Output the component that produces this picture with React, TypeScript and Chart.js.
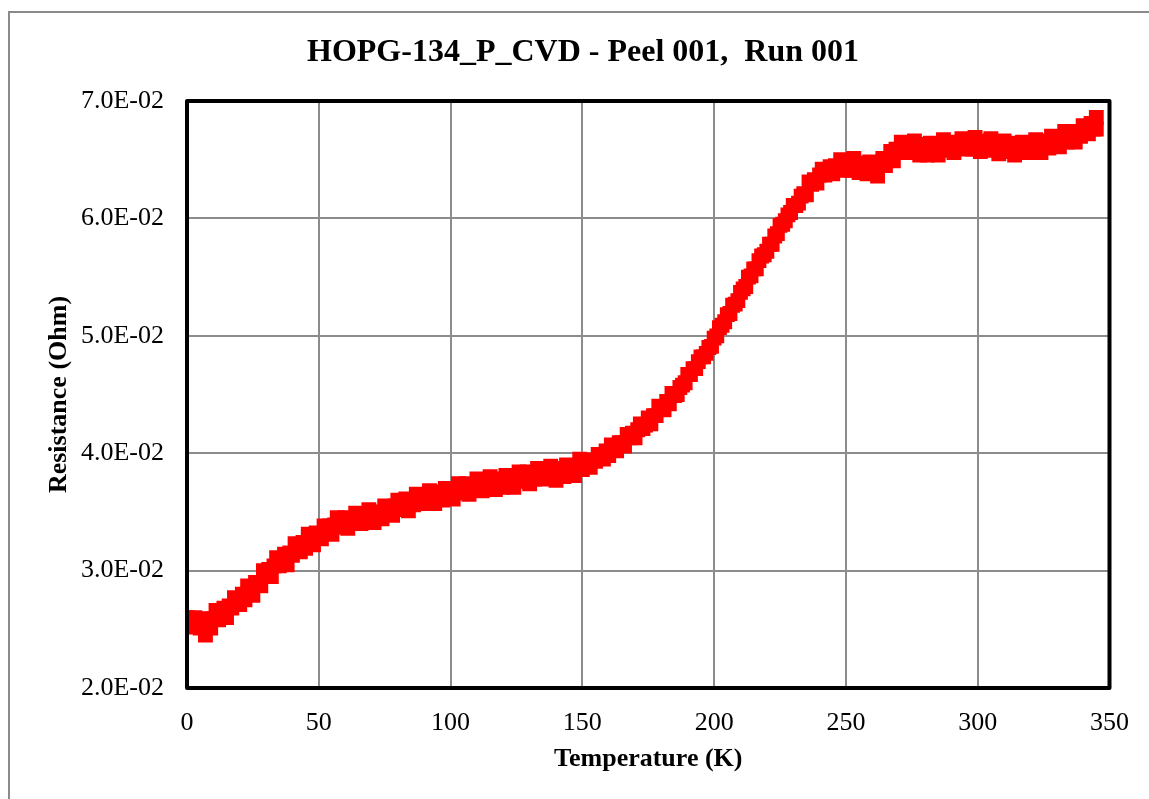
import React, { useEffect, useRef } from "react";
import { Chart, registerables } from "chart.js";

Chart.register(...registerables);

const CHART_TITLE = "HOPG-134_P_CVD - Peel 001,  Run 001";
const X_TITLE = "Temperature (K)";
const Y_TITLE = "Resistance (Ohm)";

const X_MIN = 0;
const X_MAX = 350;
const X_STEP = 50;
const Y_MIN = 0.02;
const Y_MAX = 0.07;
const Y_STEP = 0.01;

const temperatureK = [
  0, 1, 2, 3, 4, 5, 6, 7, 8, 9,
  10, 11, 12, 13, 14, 15, 16, 17, 18, 19,
  20, 21, 22, 23, 24, 25, 26, 27, 28, 29,
  30, 31, 32, 33, 34, 35, 36, 37, 38, 39,
  40, 41, 42, 43, 44, 45, 46, 47, 48, 49,
  50, 51, 52, 53, 54, 55, 56, 57, 58, 59,
  60, 61, 62, 63, 64, 65, 66, 67, 68, 69,
  70, 71, 72, 73, 74, 75, 76, 77, 78, 79,
  80, 81, 82, 83, 84, 85, 86, 87, 88, 89,
  90, 91, 92, 93, 94, 95, 96, 97, 98, 99,
  100, 101, 102, 103, 104, 105, 106, 107, 108, 109,
  110, 111, 112, 113, 114, 115, 116, 117, 118, 119,
  120, 121, 122, 123, 124, 125, 126, 127, 128, 129,
  130, 131, 132, 133, 134, 135, 136, 137, 138, 139,
  140, 141, 142, 143, 144, 145, 146, 147, 148, 149,
  150, 151, 152, 153, 154, 155, 156, 157, 158, 159,
  160, 161, 162, 163, 164, 165, 166, 167, 168, 169,
  170, 171, 172, 173, 174, 175, 176, 177, 178, 179,
  180, 181, 182, 183, 184, 185, 186, 187, 188, 189,
  190, 191, 192, 193, 194, 195, 196, 197, 198, 199,
  200, 201, 202, 203, 204, 205, 206, 207, 208, 209,
  210, 211, 212, 213, 214, 215, 216, 217, 218, 219,
  220, 221, 222, 223, 224, 225, 226, 227, 228, 229,
  230, 231, 232, 233, 234, 235, 236, 237, 238, 239,
  240, 241, 242, 243, 244, 245, 246, 247, 248, 249,
  250, 251, 252, 253, 254, 255, 256, 257, 258, 259,
  260, 261, 262, 263, 264, 265, 266, 267, 268, 269,
  270, 271, 272, 273, 274, 275, 276, 277, 278, 279,
  280, 281, 282, 283, 284, 285, 286, 287, 288, 289,
  290, 291, 292, 293, 294, 295, 296, 297, 298, 299,
  300, 301, 302, 303, 304, 305, 306, 307, 308, 309,
  310, 311, 312, 313, 314, 315, 316, 317, 318, 319,
  320, 321, 322, 323, 324, 325, 326, 327, 328, 329,
  330, 331, 332, 333, 334, 335, 336, 337, 338, 339,
  340, 341, 342, 343, 344, 345, 345,
];

const resistanceOhm = [
  0.0260, 0.0257, 0.0252, 0.0260, 0.0256, 0.0251, 0.0259, 0.0245, 0.0257, 0.0251,
  0.0259, 0.0266, 0.0258, 0.0261, 0.0268, 0.0260, 0.0270, 0.0268, 0.0277, 0.0273,
  0.0271, 0.0280, 0.0275, 0.0287, 0.0281, 0.0279, 0.0290, 0.0290, 0.0287, 0.0300,
  0.0295, 0.0301, 0.0295, 0.0304, 0.0311, 0.0304, 0.0307, 0.0314, 0.0305, 0.0315,
  0.0313, 0.0323, 0.0318, 0.0316, 0.0324, 0.0319, 0.0331, 0.0326, 0.0322, 0.0332,
  0.0330, 0.0327, 0.0338, 0.0333, 0.0338, 0.0331, 0.0339, 0.0345, 0.0337, 0.0340,
  0.0345, 0.0336, 0.0344, 0.0341, 0.0349, 0.0344, 0.0340, 0.0348, 0.0341, 0.0352,
  0.0345, 0.0341, 0.0350, 0.0348, 0.0344, 0.0355, 0.0349, 0.0354, 0.0347, 0.0355,
  0.0360, 0.0352, 0.0355, 0.0361, 0.0351, 0.0360, 0.0356, 0.0365, 0.0360, 0.0357,
  0.0364, 0.0358, 0.0368, 0.0362, 0.0357, 0.0367, 0.0364, 0.0360, 0.0370, 0.0364,
  0.0368, 0.0361, 0.0368, 0.0374, 0.0366, 0.0369, 0.0374, 0.0365, 0.0373, 0.0370,
  0.0378, 0.0372, 0.0368, 0.0376, 0.0369, 0.0380, 0.0373, 0.0369, 0.0378, 0.0376,
  0.0371, 0.0381, 0.0374, 0.0379, 0.0371, 0.0379, 0.0384, 0.0376, 0.0378, 0.0384,
  0.0374, 0.0382, 0.0378, 0.0387, 0.0381, 0.0378, 0.0385, 0.0379, 0.0389, 0.0382,
  0.0377, 0.0387, 0.0384, 0.0380, 0.0390, 0.0384, 0.0388, 0.0381, 0.0389, 0.0395,
  0.0386, 0.0389, 0.0394, 0.0388, 0.0394, 0.0393, 0.0399, 0.0397, 0.0395, 0.0402,
  0.0398, 0.0407, 0.0403, 0.0402, 0.0409, 0.0409, 0.0406, 0.0416, 0.0413, 0.0417,
  0.0413, 0.0420, 0.0425, 0.0421, 0.0424, 0.0430, 0.0425, 0.0432, 0.0432, 0.0440,
  0.0438, 0.0437, 0.0444, 0.0442, 0.0451, 0.0449, 0.0450, 0.0456, 0.0458, 0.0460,
  0.0467, 0.0467, 0.0472, 0.0472, 0.0478, 0.0482, 0.0482, 0.0485, 0.0490, 0.0491,
  0.0498, 0.0500, 0.0507, 0.0509, 0.0512, 0.0518, 0.0519, 0.0526, 0.0527, 0.0530,
  0.0537, 0.0540, 0.0542, 0.0550, 0.0551, 0.0557, 0.0557, 0.0564, 0.0568, 0.0569,
  0.0572, 0.0578, 0.0578, 0.0585, 0.0587, 0.0594, 0.0595, 0.0598, 0.0603, 0.0605,
  0.0611, 0.0611, 0.0613, 0.0619, 0.0621, 0.0620, 0.0631, 0.0629, 0.0633, 0.0630,
  0.0637, 0.0642, 0.0637, 0.0639, 0.0644, 0.0638, 0.0645, 0.0642, 0.0650, 0.0645,
  0.0641, 0.0648, 0.0641, 0.0651, 0.0644, 0.0639, 0.0647, 0.0644, 0.0638, 0.0648,
  0.0640, 0.0644, 0.0636, 0.0645, 0.0651, 0.0645, 0.0650, 0.0657, 0.0649, 0.0659,
  0.0656, 0.0665, 0.0660, 0.0656, 0.0663, 0.0656, 0.0666, 0.0659, 0.0654, 0.0663,
  0.0659, 0.0654, 0.0664, 0.0658, 0.0662, 0.0654, 0.0661, 0.0667, 0.0658, 0.0660,
  0.0665, 0.0656, 0.0664, 0.0660, 0.0668, 0.0663, 0.0659, 0.0666, 0.0659, 0.0669,
  0.0662, 0.0657, 0.0666, 0.0663, 0.0658, 0.0668, 0.0660, 0.0664, 0.0655, 0.0662,
  0.0666, 0.0657, 0.0659, 0.0664, 0.0654, 0.0662, 0.0657, 0.0665, 0.0659, 0.0656,
  0.0663, 0.0657, 0.0667, 0.0661, 0.0656, 0.0666, 0.0664, 0.0660, 0.0670, 0.0664,
  0.0668, 0.0661, 0.0668, 0.0674, 0.0665, 0.0668, 0.0674, 0.0665, 0.0673, 0.0670,
  0.0679, 0.0675, 0.0672, 0.0681, 0.0676, 0.0686, 0.0676,
];

const SERIF = "'Liberation Serif', 'Times New Roman', serif";

function formatSci(v: number): string {
  const [m, e] = v.toExponential(1).split("e");
  const n = parseInt(e, 10);
  return `${m}E${n < 0 ? "-" : "+"}${String(Math.abs(n)).padStart(2, "0")}`;
}

const framePlugin = {
  id: "framePlugin",
  beforeDraw(chart: any) {
    const { ctx, width, height } = chart;
    ctx.save();
    ctx.fillStyle = "#ffffff";
    ctx.fillRect(0, 0, width, height);
    ctx.strokeStyle = "#8a8a8a";
    ctx.lineWidth = 2;
    ctx.beginPath();
    ctx.moveTo(9, height);
    ctx.lineTo(9, 12);
    ctx.lineTo(width, 12);
    ctx.stroke();
    ctx.restore();
  },
  afterDraw(chart: any) {
    const { ctx, chartArea } = chart;
    const { left, top, right, bottom } = chartArea;
    ctx.save();
    ctx.strokeStyle = "#000000";
    ctx.lineWidth = 4;
    ctx.lineJoin = "round";
    ctx.strokeRect(left, top, right - left, bottom - top);
    ctx.fillStyle = "#000000";
    ctx.font = `bold 32px ${SERIF}`;
    ctx.textAlign = "center";
    ctx.textBaseline = "alphabetic";
    ctx.fillText(CHART_TITLE, 583, 61);
    ctx.restore();
  },
};

export default function App() {
  const canvasRef = useRef<HTMLCanvasElement | null>(null);

  useEffect(() => {
    if (!canvasRef.current) return;
    const points = temperatureK.map((t, i) => ({ x: t, y: resistanceOhm[i] }));
    const chart = new Chart(canvasRef.current, {
      type: "scatter",
      data: {
        datasets: [
          {
            label: "R(T)",
            data: points,
            pointStyle: "rect",
            pointRadius: 10.5,
            pointHoverRadius: 10.5,
            backgroundColor: "#ff0000",
            borderColor: "#ff0000",
            borderWidth: 0,
            showLine: false,
            clip: 0,
          },
        ],
      },
      options: {
        responsive: false,
        animation: false,
        devicePixelRatio: 1,
        layout: { padding: { top: 101, right: 39, bottom: 0, left: 0 } },
        plugins: {
          legend: { display: false },
          tooltip: { enabled: false },
          title: { display: false },
        },
        scales: {
          x: {
            type: "linear",
            min: X_MIN,
            max: X_MAX,
            border: { display: false },
            grid: { color: "#8c8c8c", lineWidth: 2, drawTicks: false },
            ticks: {
              stepSize: X_STEP,
              padding: 20,
              color: "#000000",
              font: { family: SERIF, size: 26 },
              maxRotation: 0,
            },
            title: {
              display: true,
              text: X_TITLE,
              color: "#000000",
              font: { family: SERIF, size: 26, weight: "bold" },
              padding: { top: 0, bottom: 24 },
            },
            afterFit(scale: any) {
              scale.height = 111;
            },
          },
          y: {
            type: "linear",
            min: Y_MIN,
            max: Y_MAX,
            border: { display: false },
            grid: { color: "#8c8c8c", lineWidth: 2, drawTicks: false },
            ticks: {
              stepSize: Y_STEP,
              padding: 23,
              color: "#000000",
              font: { family: SERIF, size: 26 },
              callback: (v: any) => formatSci(Number(v)),
            },
            title: {
              display: true,
              text: Y_TITLE,
              color: "#000000",
              font: { family: SERIF, size: 26, weight: "bold" },
              padding: { top: 44, bottom: 0 },
            },
            afterFit(scale: any) {
              scale.width = 187;
            },
          },
        },
      },
      plugins: [framePlugin],
    });
    return () => chart.destroy();
  }, []);

  return (
    <div style={{ position: "fixed", left: 0, top: 0, width: 1149, height: 799, background: "#fff" }}>
      <canvas ref={canvasRef} width={1149} height={799} style={{ display: "block", width: 1149, height: 799 }} />
    </div>
  );
}
